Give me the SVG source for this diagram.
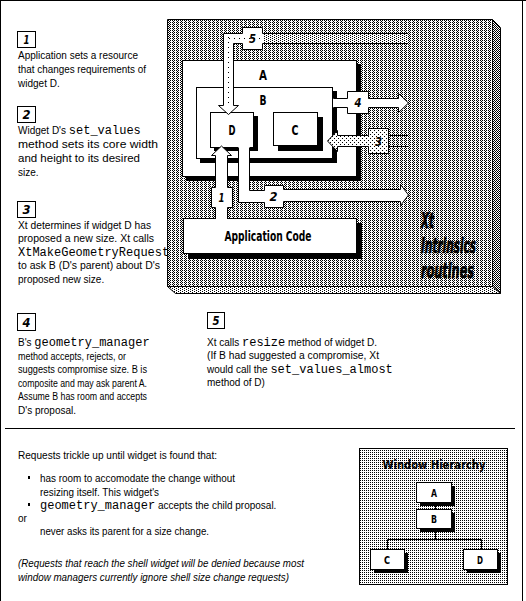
<svg xmlns="http://www.w3.org/2000/svg" width="526" height="601" viewBox="0 0 526 601">
<defs>
<pattern id="face" width="4" height="2" patternUnits="userSpaceOnUse"><rect width="4" height="2" fill="#fff"/><rect x="0" y="0" width="1" height="1" fill="#000"/><rect x="2" y="0" width="1" height="1" fill="#000"/><rect x="1" y="1" width="1" height="1" fill="#000"/></pattern>
<pattern id="grid" width="2" height="2" patternUnits="userSpaceOnUse"><rect width="2" height="2" fill="#fff"/><rect x="0" y="0" width="1" height="1" fill="#000"/></pattern>
<pattern id="dark" width="2" height="2" patternUnits="userSpaceOnUse"><rect width="2" height="2" fill="#fff"/><rect x="0" y="0" width="1" height="1" fill="#000"/><rect x="1" y="1" width="1" height="1" fill="#000"/></pattern>
<pattern id="light" width="4" height="2" patternUnits="userSpaceOnUse"><rect width="4" height="2" fill="#fff"/><rect x="0" y="0" width="1" height="1" fill="#000"/><rect x="2" y="1" width="1" height="1" fill="#000"/></pattern>
<pattern id="sparse" width="4" height="4" patternUnits="userSpaceOnUse"><rect width="4" height="4" fill="#fff"/><rect x="0" y="0" width="1" height="1" fill="#000"/><rect x="2" y="2" width="1" height="1" fill="#000"/></pattern>
</defs>
<style>
.t{font-family:"Liberation Sans",Arial,sans-serif;font-size:10px;fill:#000}
.m{font-family:"Liberation Mono","Courier New",monospace;font-size:12px}
.i{font-style:italic}
.lbl{font-family:"DejaVu Sans","Liberation Sans",sans-serif;font-weight:bold;font-size:14px;text-anchor:middle;fill:#000}
.num{font-family:"DejaVu Sans","Liberation Sans",sans-serif;font-weight:bold;font-style:italic;font-size:13px;text-anchor:middle;fill:#000}
.big{font-family:"DejaVu Sans","Liberation Sans",sans-serif;font-weight:bold;font-style:italic;font-size:22px;fill:#000;stroke:#000;stroke-width:0.7}
.box{fill:#fff;stroke:#000;stroke-width:1}
.ln{fill:none;stroke:#000;stroke-width:1}
.sh{fill:#000}
</style>

<g id="frame">
<line x1="0.5" y1="0" x2="0.5" y2="601" class="ln"/>
<line x1="0" y1="0.5" x2="526" y2="0.5" class="ln"/>
<line x1="522.5" y1="0" x2="522.5" y2="601" class="ln"/>
<line x1="5" y1="428.5" x2="515" y2="428.5" class="ln"/>
</g>

<g id="panel">
<polygon points="167.5,19.5 492.5,19.5 492.5,286.5 167.5,286.5" fill="url(#face)" stroke="#000"/>
<polygon points="492.5,19.5 500.5,27.5 500.5,293.5 492.5,286.5" fill="url(#dark)" stroke="#000"/>
<polygon points="167.5,286.5 492.5,286.5 500.5,293.5 175.5,293.5" fill="url(#light)" stroke="#000"/>
<text x="421" y="228" textLength="13" lengthAdjust="spacingAndGlyphs" class="big">Xt</text>
<text x="421" y="253" textLength="55" lengthAdjust="spacingAndGlyphs" class="big">Intrinsics</text>
<text x="421" y="278" textLength="53" lengthAdjust="spacingAndGlyphs" class="big">routines</text>
</g>

<g id="nodeA">
<rect x="186" y="64" width="175" height="117" class="sh"/>
<rect x="182.5" y="60.5" width="174" height="116" class="box"/>
<text x="263" y="80" textLength="8" lengthAdjust="spacingAndGlyphs" class="lbl">A</text>
</g>
<g id="nodeB">
<rect x="200" y="91" width="137" height="72" class="sh"/>
<rect x="196.5" y="87.5" width="136" height="71" class="box"/>
<text x="263" y="105" textLength="7" lengthAdjust="spacingAndGlyphs" class="lbl">B</text>
</g>
<g id="nodeD">
<rect x="214" y="116" width="44" height="35" class="sh"/>
<rect x="210.5" y="112.5" width="43" height="35" class="box"/>
<text x="232" y="135" textLength="7" lengthAdjust="spacingAndGlyphs" class="lbl">D</text>
</g>
<g id="nodeC">
<rect x="278" y="117" width="45" height="34" class="sh"/>
<rect x="273.5" y="112.5" width="44" height="33" class="box"/>
<text x="295" y="135" textLength="7" lengthAdjust="spacingAndGlyphs" class="lbl">C</text>
</g>
<g id="appcode">
<rect x="188" y="223" width="174" height="36" class="sh"/>
<rect x="183.5" y="218.5" width="173" height="35" class="box"/>
<text x="268" y="241" textLength="87" lengthAdjust="spacingAndGlyphs" class="lbl">Application Code</text>
</g>

<g id="connectors">
<!-- arrow 5 -->
<path d="M408,33.5 H262.5 V27.5 H242.5 V33.5 H223.5 V105.5 H218.5 L228.5,114.5 L238.5,105.5 H233.5 V43.5 H242.5 V49.5 H262.5 V43.5 H408 Z" fill="#fff"/>
<rect x="263" y="34" width="145" height="9" fill="url(#light)"/>
<path d="M228.5,37 V104 M229,38.5 H262" stroke="#000" stroke-dasharray="1 4" fill="none"/>
<path d="M408,33.5 H262.5 V27.5 H242.5 V33.5 H223.5 V105.5 H218.5 L228.5,114.5 L238.5,105.5 H233.5 V43.5 H242.5 V49.5 H262.5 V43.5 H408" class="ln"/>
<text x="252.5" y="43" textLength="7" lengthAdjust="spacingAndGlyphs" class="num">5</text>
<!-- arrow 4 -->
<path d="M333,98.5 H347.5 V91.5 H368.5 V98.5 H398.5 V93.5 L408.5,103 L398.5,112.5 V107.5 H368.5 V113.5 H347.5 V107.5 H333 Z" fill="#fff"/>
<path d="M333.5,98.5 H347.5 V91.5 H368.5 V98.5 H398.5 V93.5 L408.5,103 L398.5,112.5 V107.5 H368.5 V113.5 H347.5 V107.5 H333.5" class="ln"/>
<text x="358" y="107" textLength="7" lengthAdjust="spacingAndGlyphs" class="num">4</text>
<!-- arrow 3 -->
<path d="M327.5,141 L337.5,130.5 V135.5 H368.5 V128.5 H388.5 V153.5 H368.5 V146.5 H337.5 V151.5 Z" fill="url(#sparse)" stroke="#000"/>
<path d="M388.5,135.5 H408 M388.5,146.5 H408" class="ln"/>
<text x="378.5" y="146" textLength="7" lengthAdjust="spacingAndGlyphs" class="num">3</text>
<!-- arrow 1 -->
<path d="M221.5,146 L231.5,155.5 H227.5 V187.5 H232.5 V207.5 H227.5 V219 H215.5 V207.5 H211.5 V187.5 H215.5 V155.5 H211.5 Z" fill="#fff"/>
<path d="M227.5,219 V207.5 H232.5 V187.5 H227.5 V155.5 H231.5 L221.5,146 L211.5,155.5 H215.5 V187.5 H211.5 V207.5 H215.5 V219" class="ln"/>
<text x="221.5" y="202" textLength="6" lengthAdjust="spacingAndGlyphs" class="num">1</text>
<!-- arrow 2 -->
<path d="M238.5,147 V202.5 H264.5 V207.5 H283.5 V201.5 H400.5 V205.5 L408.5,195 L400.5,184.5 V189.5 H283.5 V185.5 H264.5 V190.5 H249.5 V147 Z" fill="#fff"/>
<path d="M238.5,148 V202.5 H264.5 V207.5 H283.5 V201.5 H400.5 V205.5 L408.5,195 L400.5,184.5 V189.5 H283.5 V185.5 H264.5 V190.5 H249.5 V148" class="ln"/>
<text x="273.5" y="201" textLength="8" lengthAdjust="spacingAndGlyphs" class="num">2</text>
</g>

<g id="step1">
<rect x="17.5" y="31.5" width="18" height="16" class="box"/>
<text x="26.5" y="44" textLength="6" lengthAdjust="spacingAndGlyphs" class="num">1</text>
<text class="t" x="18" y="59" textLength="120" lengthAdjust="spacingAndGlyphs">Application sets a resource</text>
<text class="t" x="18" y="73" textLength="128" lengthAdjust="spacingAndGlyphs">that changes requirements of</text>
<text class="t" x="18" y="87">widget D.</text>
</g>
<g id="step2">
<rect x="17.5" y="106.5" width="18" height="16" class="box"/>
<text x="26.5" y="119" textLength="8" lengthAdjust="spacingAndGlyphs" class="num">2</text>
<text class="t" x="18" y="134">Widget D's <tspan class="m">set_values</tspan></text>
<text class="t" x="18" y="148" textLength="140" lengthAdjust="spacingAndGlyphs">method sets its core width</text>
<text class="t" x="18" y="162" textLength="122" lengthAdjust="spacingAndGlyphs">and height to its desired</text>
<text class="t" x="18" y="176">size.</text>
</g>
<g id="step3">
<rect x="17.5" y="201.5" width="18" height="16" class="box"/>
<text x="26.5" y="214" textLength="8" lengthAdjust="spacingAndGlyphs" class="num">3</text>
<text class="t" x="18" y="229" textLength="133" lengthAdjust="spacingAndGlyphs">Xt determines if widget D has</text>
<text class="t" x="18" y="242" textLength="136" lengthAdjust="spacingAndGlyphs">proposed a new size. Xt calls</text>
<text class="t m" x="18" y="256">XtMakeGeometryRequest</text>
<text class="t" x="18" y="269" textLength="142" lengthAdjust="spacingAndGlyphs">to ask B (D's parent) about D's</text>
<text class="t" x="18" y="283">proposed new size.</text>
</g>
<g id="step4">
<rect x="17.5" y="313.5" width="18" height="17" class="box"/>
<text x="26.5" y="327" textLength="8" lengthAdjust="spacingAndGlyphs" class="num">4</text>
<text class="t" x="18" y="346">B's <tspan class="m">geometry_manager</tspan></text>
<text class="t" x="18" y="360" textLength="108" lengthAdjust="spacingAndGlyphs">method accepts, rejects, or</text>
<text class="t" x="18" y="373" textLength="129" lengthAdjust="spacingAndGlyphs">suggests compromise size. B is</text>
<text class="t" x="18" y="387" textLength="129" lengthAdjust="spacingAndGlyphs">composite and may ask parent A.</text>
<text class="t" x="18" y="400" textLength="129" lengthAdjust="spacingAndGlyphs">Assume B has room and accepts</text>
<text class="t" x="18" y="414">D's proposal.</text>
</g>
<g id="step5">
<rect x="207.5" y="312.5" width="17" height="16" class="box"/>
<text x="216" y="325" textLength="7" lengthAdjust="spacingAndGlyphs" class="num">5</text>
<text class="t" x="207" y="346">Xt calls <tspan class="m">resize</tspan> method of widget D.</text>
<text class="t" x="207" y="359" textLength="172" lengthAdjust="spacingAndGlyphs">(If B had suggested a compromise, Xt</text>
<text class="t" x="207" y="373">would call the <tspan class="m">set_values_almost</tspan></text>
<text class="t" x="207" y="386">method of D)</text>
</g>

<g id="notes">
<text class="t" x="18" y="459" textLength="199" lengthAdjust="spacingAndGlyphs">Requests trickle up until widget is found that:</text>
<rect x="28" y="476" width="2" height="3" fill="#000"/>
<text class="t" x="40" y="482" textLength="195" lengthAdjust="spacingAndGlyphs">has room to accomodate the change without</text>
<text class="t" x="40" y="496" textLength="119" lengthAdjust="spacingAndGlyphs">resizing itself.  This widget's</text>
<rect x="28" y="503" width="2" height="3" fill="#000"/>
<text class="t" x="40" y="509"><tspan class="m">geometry_manager</tspan> accepts the child proposal.</text>
<text class="t" x="18" y="522">or</text>
<text class="t" x="40" y="535" textLength="169" lengthAdjust="spacingAndGlyphs">never asks its parent for a size change.</text>
<text class="t i" x="18" y="567" textLength="286" lengthAdjust="spacingAndGlyphs">(Requests that reach the shell widget will be denied because most</text>
<text class="t i" x="18" y="581" textLength="271" lengthAdjust="spacingAndGlyphs">window managers currently ignore shell size change requests)</text>
</g>

<g id="hierarchy">
<rect x="359.5" y="448.5" width="148" height="136" fill="url(#grid)" stroke="#000"/>
<text x="434" y="469" textLength="103" lengthAdjust="spacingAndGlyphs" class="lbl" style="font-size:13px">Window Hierarchy</text>
<path d="M435.5,502 V509 M435.5,528 V539.5 M387.5,539.5 H481.5 M387.5,539.5 V549 M481.5,539.5 V549" class="ln"/>
<g id="hA"><rect x="420" y="486" width="35" height="20" class="sh"/><rect x="416.5" y="482.5" width="35" height="20" class="box"/><text x="434" y="497" textLength="6" lengthAdjust="spacingAndGlyphs" class="lbl" style="font-size:11px">A</text></g>
<g id="hB"><rect x="420" y="513" width="35" height="19" class="sh"/><rect x="416.5" y="509.5" width="35" height="19" class="box"/><text x="434" y="523" textLength="6" lengthAdjust="spacingAndGlyphs" class="lbl" style="font-size:11px">B</text></g>
<g id="hC"><rect x="374" y="553" width="34" height="20" class="sh"/><rect x="370.5" y="549.5" width="34" height="20" class="box"/><text x="387" y="564" textLength="6" lengthAdjust="spacingAndGlyphs" class="lbl" style="font-size:11px">C</text></g>
<g id="hD"><rect x="467" y="553" width="34" height="20" class="sh"/><rect x="463.5" y="549.5" width="34" height="20" class="box"/><text x="480" y="564" textLength="6" lengthAdjust="spacingAndGlyphs" class="lbl" style="font-size:11px">D</text></g>
</g>
</svg>
